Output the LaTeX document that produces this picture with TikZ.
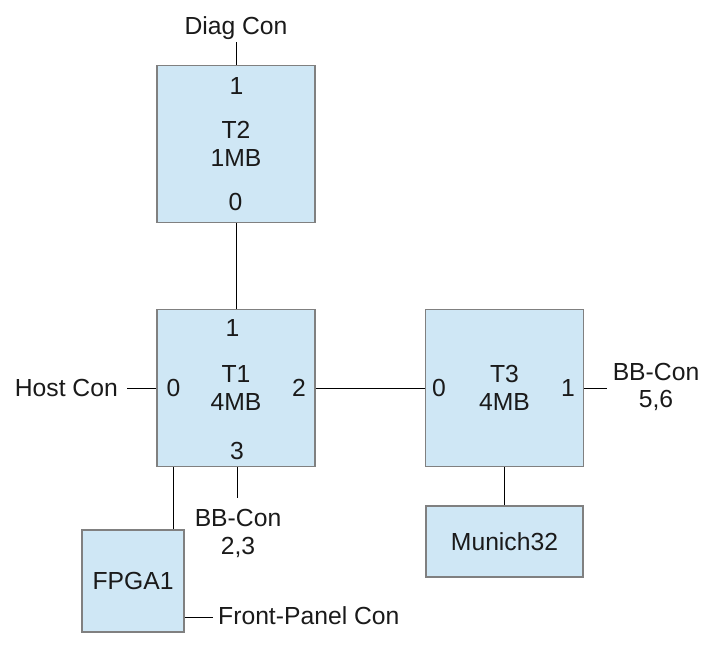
\documentclass[tikz,border=0pt]{standalone}
\usepackage{fontspec}
\setmainfont{Liberation Sans}
\definecolor{boxfill}{RGB}{207,231,245}
\definecolor{boxline}{RGB}{128,128,128}
\definecolor{txt}{RGB}{26,26,26}
\begin{document}
\begin{tikzpicture}[x=1pt,y=-1pt,
  every node/.style={text=txt,font=\fontsize{24.7}{27.3}\selectfont},
  blk/.style={draw=boxline,fill=boxfill,line width=1.2pt,inner sep=0pt,align=center},
  bigblk/.style={blk,minimum width=158pt,minimum height=157pt},
  lbl/.style={anchor=base,inner sep=0pt},
  wire/.style={draw=black,line width=1pt}]
\useasboundingbox (0,0) rectangle (717,659);
% blocks
\node[bigblk] (T2) at (236,144) {T2\\1MB};
\node[bigblk] (T1) at (236,388) {T1\\4MB};
\node[bigblk] (T3) at (504.5,388) {T3\\4MB};
\node[blk,minimum width=157pt,minimum height=71pt] (M32) at (504.5,541.5) {Munich32};
\node[blk,minimum width=102pt,minimum height=102pt] (FPGA) at (133,581) {FPGA1};
% port labels
\node[lbl] (t2p1) at (236.5,94) {1};
\node[lbl] (t2p0) at (235.5,210.7) {0};
\node[lbl] (t1p1) at (232.5,336.7) {1};
\node[lbl] (t1p0) at (173.5,396.7) {0};
\node[lbl] (t1p2) at (299,396.7) {2};
\node[lbl] (t1p3) at (237,459) {3};
\node[lbl] (t3p0) at (439,396.7) {0};
\node[lbl] (t3p1) at (568,396.7) {1};
% external labels
\node[lbl] (diag) at (236,34) {Diag Con};
\node[lbl,anchor=base east] (host) at (118,396.7) {Host Con};
\node[lbl,align=center] (bb56) at (656,407.5) {BB-Con\\5,6};
\node[lbl,align=center] (bb23) at (238,554) {BB-Con\\2,3};
\node[lbl,anchor=base west] (fp) at (218,624) {Front-Panel Con};
% free wire ends
\coordinate (diagend) at (236.5,42);
\coordinate (hostend) at (127,388.7);
\coordinate (bb56end) at (607,388.7);
\coordinate (bb23end) at (237,498);
\coordinate (fpgax) at (173.5,0);
\coordinate (fpend) at (213,617);
% wires
\draw[wire] (diagend) -- (diagend |- T2.north);
\draw[wire] (T2.south) -- (T1.north);
\draw[wire] (hostend) -- (hostend -| T1.west);
\draw[wire] (T1.east |- hostend) -- (T3.west |- hostend);
\draw[wire] (T3.east |- bb56end) -- (bb56end);
\draw[wire] (bb23end |- T1.south) -- (bb23end);
\draw[wire] (fpgax |- T1.south) -- (fpgax |- FPGA.north);
\draw[wire] (T3.south) -- (M32.north);
\draw[wire] (fpend -| FPGA.east) -- (fpend);
\end{tikzpicture}
\end{document}
